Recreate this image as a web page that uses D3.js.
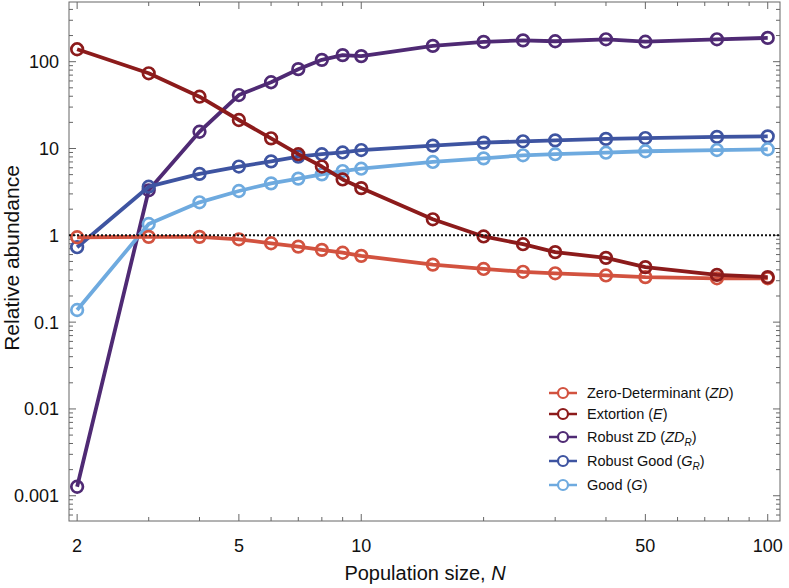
<!DOCTYPE html>
<html><head><meta charset="utf-8">
<script src="https://cdn.jsdelivr.net/npm/d3@7"></script>
<style>body{margin:0;background:#fff;} text{font-family:"Liberation Sans",Arial,sans-serif;}</style>
</head><body>
<svg id="c" width="789" height="588"></svg>
<script>
const N = [2,3,4,5,6,7,8,9,10,15,20,25,30,40,50,75,100];
const zd      = [0.95,0.96,0.96,0.90,0.81,0.74,0.68,0.63,0.58,0.46,0.41,0.38,0.365,0.345,0.33,0.32,0.32];
const extort  = [139,73.5,39.5,21.3,13.1,8.6,6.2,4.4,3.5,1.53,0.97,0.79,0.64,0.55,0.43,0.35,0.33];
const robustZD= [0.00127,3.3,15.6,41.3,58,82,105,119,116,152,169,176,172,181,170,181,188];
const robustG = [0.73,3.63,5.1,6.2,7.1,8.05,8.6,9.0,9.6,10.8,11.7,12.1,12.4,12.9,13.2,13.6,13.8];
const good    = [0.138,1.35,2.4,3.24,3.97,4.5,5.04,5.5,5.85,7.0,7.7,8.35,8.6,8.95,9.3,9.6,9.8];
const xTickLabels = [2,5,10,50,100];
const yTickLabels = [0.001,0.01,0.1,1,10,100];
const seriesNames = ["Zero-Determinant","Extortion","Robust ZD","Robust Good","Good"];
const seriesColors = ["#d2523f","#8c1b1b","#4f2a74","#3e54a1","#6eaadf"];

const svg = d3.select("#c");
const L=69, R=780, T=2, B=521;
const x = d3.scaleLog().domain([1.91,107.2]).range([L,R]);
const y = d3.scaleLog().domain([0.000512,487]).range([B,T]);
const frameCol="#666";

// ticks
const g = svg.append("g");
const xMinor = [3,4,6,7,8,9,20,30,40,60,70,80,90];
const yMinor = [];
for (let e=-4;e<=2;e++) for (let m=2;m<=9;m++){const v=m*Math.pow(10,e); if(v>0.000512 && v<487) yMinor.push(v);}
function tickLines(vals,len,isX){
  vals.forEach(v=>{
    if(isX){
      const px=x(v);
      g.append("line").attr("x1",px).attr("x2",px).attr("y1",B).attr("y2",B-len).attr("stroke",frameCol);
      g.append("line").attr("x1",px).attr("x2",px).attr("y1",T).attr("y2",T+len).attr("stroke",frameCol);
    } else {
      const py=y(v);
      g.append("line").attr("x1",L).attr("x2",L+len).attr("y1",py).attr("y2",py).attr("stroke",frameCol);
      g.append("line").attr("x1",R).attr("x2",R-len).attr("y1",py).attr("y2",py).attr("stroke",frameCol);
    }
  });
}
tickLines(xTickLabels,7,true); tickLines(xMinor,4,true);
tickLines(yTickLabels,7,false); tickLines(yMinor,4,false);

svg.append("rect").attr("x",L).attr("y",T).attr("width",R-L).attr("height",B-T)
  .attr("fill","none").attr("stroke",frameCol).attr("stroke-width",1);

// tick labels
xTickLabels.forEach(v=>{
  svg.append("text").attr("x",x(v)).attr("y",B+31).attr("text-anchor","middle")
    .attr("font-size",18).attr("fill","#111").text(v);
});
yTickLabels.forEach(v=>{
  svg.append("text").attr("x",L-10).attr("y",y(v)+6.5).attr("text-anchor","end")
    .attr("font-size",18).attr("fill","#111").text(v);
});

// axis labels
const xl = svg.append("text").attr("x",425).attr("y",580).attr("text-anchor","middle")
  .attr("font-size",20).attr("fill","#111");
xl.append("tspan").text("Population size, ");
xl.append("tspan").attr("font-style","italic").text("N");
svg.append("text").attr("transform",`translate(19,258) rotate(-90)`).attr("text-anchor","middle")
  .attr("font-size",21).attr("fill","#111").text("Relative abundance");

// series
const data = [zd,extort,robustZD,robustG,good];
const order = [2,3,4,0,1];
const line = d3.line().x(d=>x(d[0])).y(d=>y(d[1]));
order.forEach(i=>{
  const pts = N.map((n,k)=>[n,data[i][k]]);
  const sg = svg.append("g");
  sg.append("path").attr("d",line(pts)).attr("fill","none").attr("stroke",seriesColors[i])
    .attr("stroke-width",3.8).attr("stroke-linejoin","round");
  sg.selectAll("circle").data(pts).enter().append("circle")
    .attr("cx",d=>x(d[0])).attr("cy",d=>y(d[1])).attr("r",5.8)
    .attr("fill","none").attr("stroke",seriesColors[i]).attr("stroke-width",2.7);
});

// dotted line at 1
svg.append("line").attr("x1",L).attr("x2",R).attr("y1",y(1)).attr("y2",y(1))
  .attr("stroke","#111").attr("stroke-width",2).attr("stroke-dasharray","2,2");

// legend
const legY = [393,414,437,461,485];
const legText = [
  [["Zero-Determinant (",""],["ZD","i"],[")",""]],
  [["Extortion (",""],["E","i"],[")",""]],
  [["Robust ZD (",""],["ZD","i"],["R","is"],[")",""]],
  [["Robust Good (",""],["G","i"],["R","is"],[")",""]],
  [["Good (",""],["G","i"],[")",""]]
];
legY.forEach((ly,i)=>{
  svg.append("line").attr("x1",549).attr("x2",577).attr("y1",ly).attr("y2",ly)
    .attr("stroke",seriesColors[i]).attr("stroke-width",2.5);
  svg.append("circle").attr("cx",563).attr("cy",ly).attr("r",5)
    .attr("fill","#fff").attr("stroke",seriesColors[i]).attr("stroke-width",2.2);
  const t = svg.append("text").attr("x",587).attr("y",ly+5).attr("font-size",14.5).attr("fill","#111");
  let prevSub = false;
  legText[i].forEach(([s,f])=>{
    const ts = t.append("tspan").text(s);
    if(f.includes("i")) ts.attr("font-style","italic");
    if(f==="is"){ ts.attr("font-size",10).attr("dy",4); prevSub = true; }
    else if (prevSub){ ts.attr("dy",-4); prevSub = false; }
  });
});
</script>
</body></html>
